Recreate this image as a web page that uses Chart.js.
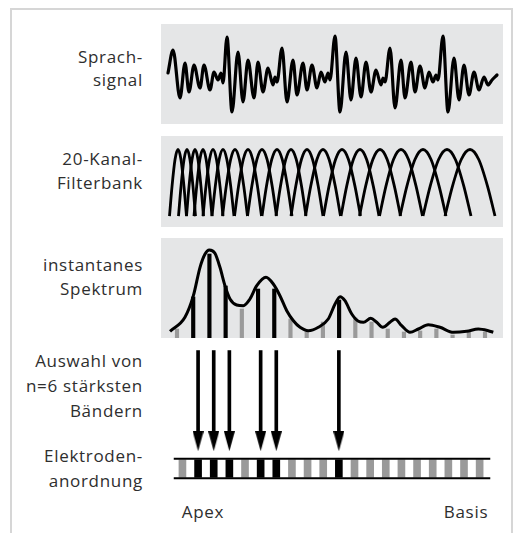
<!DOCTYPE html>
<html><head><meta charset="utf-8">
<script src="https://cdn.jsdelivr.net/npm/chart.js@4"></script>
<style>
html,body{margin:0;padding:0;background:#fff;}
#wrap{position:relative;width:517px;height:533px;overflow:hidden;font-family:"Open Sans",sans-serif;color:#2e2e2e;}
#frame{position:absolute;left:10px;top:8px;width:499px;height:560px;border:2px solid #d6d6d6;border-bottom:none;}
canvas{position:absolute;}
.lbl{position:absolute;right:374px;white-space:nowrap;font-size:17px;letter-spacing:0.7px;line-height:24px;height:24px;text-align:right;}
.ax{position:absolute;white-space:nowrap;font-size:17px;letter-spacing:0.7px;line-height:24px;height:24px;transform:translateX(-50%);}
</style></head>
<body>
<div id="wrap">
  <div id="frame"></div>
  <canvas id="c1" width="342" height="100" style="left:161px;top:24px"></canvas>
  <canvas id="c2" width="342" height="91" style="left:161px;top:136px"></canvas>
  <canvas id="c3" width="342" height="100" style="left:161px;top:238px"></canvas>
  <canvas id="c4" width="342" height="161" style="left:161px;top:339px"></canvas>
</div>
<script>
// ---------- DATA ----------
// Speech signal (sample index, amplitude)
const speechX = [7,12,19,24,28,33,39,43,49,53,57,60,62,66,71,77,82,87,93,97,102,107,112,114,116,121,126,132,136,142,146,151,156,160,164,167,169,174,179,185,190,195,200,205,210,215,220,222,224,229,234,240,244,250,254,259,264,268,272,275,277,282,287,293,298,303,308,313,318,323,327,331,336];
const speechY = [1,24,-24,11,-18,9,-14,9,-16,2,-6,1,-9,37,-38,22,-28,14,-24,12,-18,6,-11,-3,-8,26,-28,14,-21,11,-16,9,-14,2,-8,1,-6,38,-38,22,-26,16,-23,12,-18,4,-11,-4,-8,26,-34,14,-24,12,-18,8,-14,2,-8,-1,-6,38,-38,16,-26,9,-21,2,-16,-3,-11,-6,-1];

// 20-channel filter bank: centre frequency position and half bandwidth
const filterCenters = [17,26,34,42,52,62,74,87,101,116,130,146,162,181,199,219,240,262,286,309];
const filterHalfWidths = [8.5,8.5,8.5,9,10,11,12.5,13.5,14.5,15,15,16,17.5,18.5,19,20.5,21.5,23,24,25];
// filter response shape (relative offset, relative gain)
const filterShapeU = [-1,-0.7,-0.35,0,0.35,0.7,1];
const filterShapeG = [0,0.45,0.85,1,0.85,0.45,0];

// Instantaneous spectrum: channel levels
const channels = [1,2,3,4,5,6,7,8,9,10,11,12,13,14,15,16,17,18,19,20];
const bandLevels = [9,41,84,52,29,49,49,19,6,16,38,20,16,9,6,7,9,3,6,6];
// Spectral envelope
const envX = [0.57,1.49,2.01,2.42,2.73,2.99,3.34,3.65,3.96,4.27,4.68,5.09,5.50,5.92,6.49,6.94,7.35,7.77,8.18,8.59,9.10,9.72,10.33,10.75,11.06,11.36,11.78,12.19,12.50,12.95,13.32,13.69,14.14,14.45,14.86,15.37,15.89,16.50,17.22,18.05,18.87,19.59,20.20,20.51];
const envY = [6.7,20.7,42.3,70.7,84,88,84.7,70.7,52.3,39,33,32.3,39,52.3,60.7,54,42.3,27.3,17.3,10.7,7.3,10.7,19,34,41.3,37.3,24,16.7,15.7,19.7,15.7,10.7,15.7,19,12.3,5.7,9,13.3,10.7,5.7,6.7,9,7.3,5.7];

// n = 6 strongest bands
const selected = [2,3,4,6,7,11];

// ---------- LAYOUT / STYLE ----------
const PANEL = '#e5e6e7', BLACK = '#000', GREY = '#9a9a9a';
const CH_MIN = 0.013, CH_MAX = 21.11;
const panelBg = {id:'panelBg', beforeDraw(c, a, o){ if(!o.color) return; const {ctx, chartArea:{left,top,width,height}} = c; ctx.save(); ctx.fillStyle = o.color; ctx.fillRect(left, top, width, height); ctx.restore(); }};
function opts(xmin,xmax,ymin,ymax,rev,bg){
  return {responsive:false, animation:false, events:[], layout:{padding:0},
    plugins:{legend:{display:false}, tooltip:{enabled:false}, panelBg:{color:bg}},
    scales:{x:{type:'linear',display:false,min:xmin,max:xmax,offset:false,grid:{offset:false}},
            y:{type:'linear',display:false,min:ymin,max:ymax,reverse:!!rev}}};
}

// Chart 1: speech
new Chart(document.getElementById('c1'), {
  type:'line',
  data:{datasets:[{data:speechX.map((x,i)=>({x, y:speechY[i]})), borderColor:BLACK, borderWidth:3.2, pointRadius:0, cubicInterpolationMode:'monotone', fill:false, borderCapStyle:'round', borderJoinStyle:'round'}]},
  options:opts(0,342,-50,50,false,PANEL), plugins:[panelBg]
});

// Chart 2: filter bank
new Chart(document.getElementById('c2'), {
  type:'line',
  data:{datasets:filterCenters.map((c,i)=>({
    data:filterShapeU.map((u,k)=>({x:c+u*filterHalfWidths[i], y:filterShapeG[k]})),
    borderColor:BLACK, borderWidth:2.8, pointRadius:0, cubicInterpolationMode:'monotone', fill:false}))},
  options:opts(0,342,-0.165,1.203,false,PANEL), plugins:[panelBg]
});

// Chart 3: spectrum
new Chart(document.getElementById('c3'), {
  type:'bar',
  data:{datasets:[
    {type:'line', order:1, data:envX.map((x,i)=>({x, y:envY[i]})), borderColor:BLACK, borderWidth:3, pointRadius:0, cubicInterpolationMode:'monotone', fill:false},
    {type:'bar', order:2, data:channels.map((ch,i)=>({x:ch, y:bandLevels[i]})), backgroundColor:channels.map(ch=>selected.includes(ch)?BLACK:GREY), barThickness:3.5}
  ]},
  options:opts(CH_MIN,CH_MAX,0,100,false,PANEL), plugins:[panelBg]
});

// Chart 4: selection arrows + electrode array
const head = document.createElement('canvas'); head.width = 11; head.height = 20;
(function(){const g = head.getContext('2d'); g.fillStyle = BLACK; g.beginPath(); g.moveTo(0,0); g.lineTo(11,0); g.lineTo(5.5,20); g.closePath(); g.fill();})();
const ARROW_FROM = 6, ARROW_HEAD = 104, ARROW_TO = 96;
const STRIP_TOP = 123, STRIP_BOT = 144, EL_TOP = 124, EL_BOT = 143;
const STRIP_X0 = 0.445, STRIP_X1 = 20.68;
new Chart(document.getElementById('c4'), {
  type:'bar',
  data:{datasets:[
    {type:'line', order:1, data:[{x:STRIP_X0,y:STRIP_TOP},{x:STRIP_X1,y:STRIP_TOP}], borderColor:BLACK, borderWidth:2, pointRadius:0},
    {type:'line', order:1, data:[{x:STRIP_X0,y:STRIP_BOT},{x:STRIP_X1,y:STRIP_BOT}], borderColor:BLACK, borderWidth:2, pointRadius:0},
    {type:'bar', order:3, data:channels.map(ch=>({x:ch, y:[EL_TOP, EL_BOT]})), backgroundColor:channels.map(ch=>selected.includes(ch)?BLACK:GREY), barThickness:7, grouped:false},
    {type:'bar', order:2, data:selected.map(ch=>({x:ch, y:[ARROW_FROM, ARROW_TO]})), backgroundColor:BLACK, barThickness:3, grouped:false},
    {type:'line', order:0, showLine:false, data:selected.map(ch=>({x:ch, y:ARROW_HEAD})), pointStyle:head, pointRadius:5, borderColor:BLACK, backgroundColor:BLACK}
  ]},
  options:opts(CH_MIN,CH_MAX,0,161,true,null), plugins:[panelBg]
});

// ---------- TEXT ----------
const labels = [["Sprach-",57],["signal",80],["20-Kanal-",159],["Filterbank",183],["instantanes",265],["Spektrum",289],["Auswahl von",361],["n=6 stärksten",386],["Bändern",411],["Elektroden-",456],["anordnung",481]];
const wrap = document.getElementById('wrap');
labels.forEach(([t,y])=>{const d=document.createElement('div'); d.className='lbl'; d.style.top=(y-12)+'px'; d.textContent=t; wrap.appendChild(d);});
[["Apex",203,512],["Basis",466,512]].forEach(([t,x,y])=>{const d=document.createElement('div'); d.className='ax'; d.style.left=x+'px'; d.style.top=(y-12)+'px'; d.textContent=t; wrap.appendChild(d);});
</script>
</body></html>
